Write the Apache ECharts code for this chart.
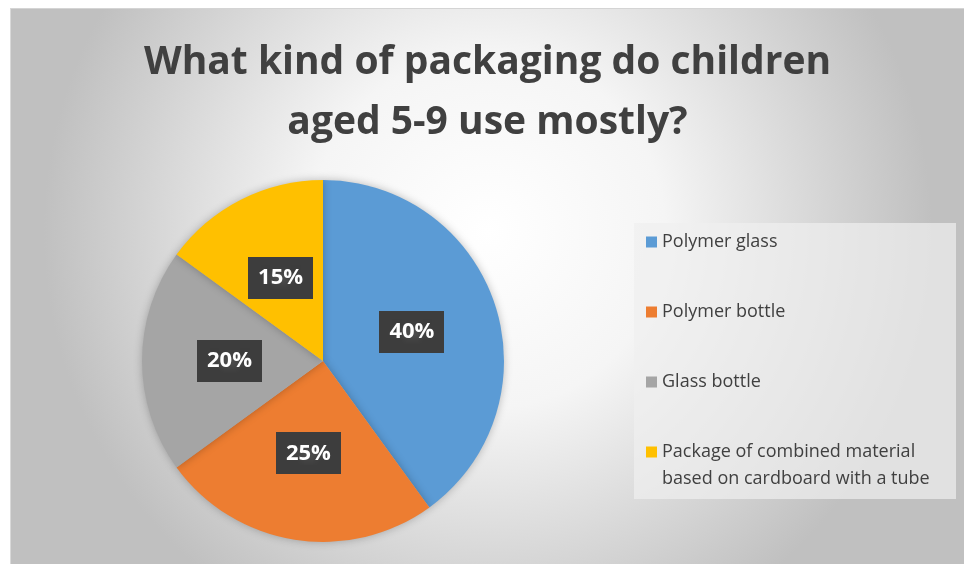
<!DOCTYPE html>
<html><head><meta charset="utf-8">
<script src="https://cdn.jsdelivr.net/npm/echarts@6/dist/echarts.min.js"></script>
<style>
html,body{margin:0;padding:0;background:#fff;}
#c{position:absolute;left:10px;top:8px;width:954px;height:556px;border-top:1px solid #d4d4d4;border-left:1px solid #d9d9d9;box-sizing:border-box;}
</style></head>
<body><div id="c"></div>
<script>
const titleLines = ['What kind of packaging do children', 'aged 5-9 use mostly?'];
const categories = ['Polymer glass', 'Polymer bottle', 'Glass bottle', 'Package of combined material\nbased on cardboard with a tube'];
const values = [40, 25, 20, 15];
const colors = ['#5B9BD5', '#ED7D31', '#A5A5A5', '#FFC000'];

const chart = echarts.init(document.getElementById('c'), null, {renderer: 'canvas'});

// dotted pattern for label boxes
const pat = document.createElement('canvas');
pat.width = 8; pat.height = 8;
const pc = pat.getContext('2d');
pc.fillStyle = '#3d3d3d'; pc.fillRect(0, 0, 8, 8);
pc.fillStyle = '#4a4a4a'; pc.beginPath(); pc.arc(4, 4, 1.6, 0, Math.PI * 2); pc.fill();

const LH = 27;
chart.setOption({
  backgroundColor: {
    type: 'radial', x: 0.5, y: 0.4, r: 0.8,
    colorStops: [{offset: 0, color: '#ffffff'}, {offset: 0.4, color: '#f5f5f5'}, {offset: 1, color: '#c0c0c0'}]
  },
  title: {
    text: titleLines.join('\n'),
    left: 'center', top: 19,
    textStyle: {fontFamily: 'Open Sans', fontWeight: 'bold', fontSize: 39, color: '#404040', lineHeight: 60}
  },
  graphic: [{
    type: 'rect', left: 623, top: 214, shape: {width: 322, height: 276},
    style: {fill: 'rgba(240,240,240,0.7)'}, z: 0
  }],
  legend: {
    orient: 'vertical', left: 635, top: 233 - 1.5 * LH,
    icon: 'rect', itemWidth: 11, itemHeight: 11, itemGap: 70 - 3 * LH,
    padding: 0,
    data: categories,
    formatter: name => name.indexOf('\n') >= 0 ? '\n' + name : '\n' + name + '\n',
    textStyle: {fontFamily: 'Open Sans', fontSize: 18, color: '#404040', lineHeight: LH}
  },
  series: [{
    type: 'pie', center: [312, 352], radius: 181, startAngle: 90, clockwise: true,
    data: categories.map((c, i) => ({name: c, value: values[i], itemStyle: {color: colors[i]}})),
    itemStyle: {shadowBlur: 8, shadowColor: 'rgba(0,0,0,0.25)'},
    label: {
      position: 'inside', formatter: p => p.value + '%',
      fontFamily: 'Open Sans', fontWeight: 'bold', fontSize: 22, color: '#ffffff', lineHeight: 24,
      backgroundColor: {image: pat}, padding: [9, 10, 9, 10],
      shadowColor: 'rgba(0,0,0,0.45)', shadowBlur: 4, shadowOffsetX: 3, shadowOffsetY: 3
    },
    labelLine: {show: false},
    emphasis: {scale: false}
  }]
});
</script></body></html>
